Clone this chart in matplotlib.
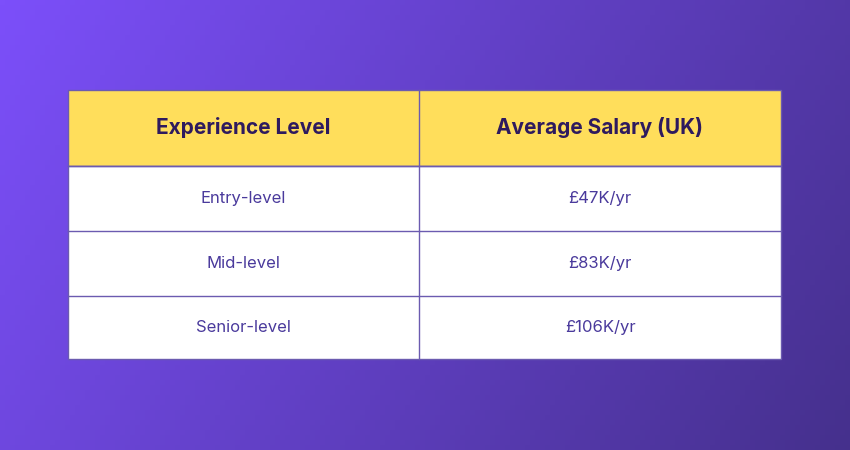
import numpy as np
import matplotlib
matplotlib.use("Agg")
import matplotlib.pyplot as plt
from matplotlib.patches import Rectangle

headers = ["Experience Level", "Average Salary (UK)"]
levels = ["Entry-level", "Mid-level", "Senior-level"]
salaries = ["£47K/yr", "£83K/yr", "£106K/yr"]

fig = plt.figure(figsize=(8.5, 4.5), dpi=100)
ax = fig.add_axes([0, 0, 1, 1])
ax.set_xlim(0, 850); ax.set_ylim(450, 0); ax.axis("off")

# gradient background
h, w = 90, 170
yy, xx = np.mgrid[0:h, 0:w]
t = (xx / w * 0.75 + yy / h * 0.25)
c0 = np.array([0x7c, 0x4f, 0xfa]) / 255
c1 = np.array([0x45, 0x30, 0x8c]) / 255
img = c0[None, None, :] * (1 - t[..., None]) + c1[None, None, :] * t[..., None]
ax.imshow(img, extent=[0, 850, 450, 0], aspect="auto", zorder=0)

x0, xm, x1 = 68, 419, 781
ys = [90, 166, 231, 296, 359]
border = "#6b5bb0"
ax.add_patch(Rectangle((x0, ys[0]), x1 - x0, ys[1] - ys[0], facecolor="#ffde5b", edgecolor=border, lw=1, zorder=1))
ax.add_patch(Rectangle((x0, ys[1]), x1 - x0, ys[4] - ys[1], facecolor="white", edgecolor=border, lw=1, zorder=1))
for y in ys[1:4]:
    ax.plot([x0, x1], [y, y], color=border, lw=1, zorder=2)
ax.plot([xm, xm], [ys[0], ys[4]], color=border, lw=1, zorder=2)

cx = [(x0 + xm) / 2, (xm + x1) / 2]
for c, htxt in zip(cx, headers):
    ax.text(c, (ys[0] + ys[1]) / 2, htxt, ha="center", va="center", fontsize=15,
            fontweight="bold", color="#2e1a5e", family="Inter", zorder=3)
for i, (a, b) in enumerate(zip(levels, salaries)):
    yc = (ys[i + 1] + ys[i + 2]) / 2
    ax.text(cx[0], yc, a, ha="center", va="center", fontsize=12, color="#4a3a9c", family="Inter", zorder=3)
    ax.text(cx[1], yc, b, ha="center", va="center", fontsize=12, color="#4a3a9c", family="Inter", zorder=3)

fig.savefig("out.png", dpi=100)
